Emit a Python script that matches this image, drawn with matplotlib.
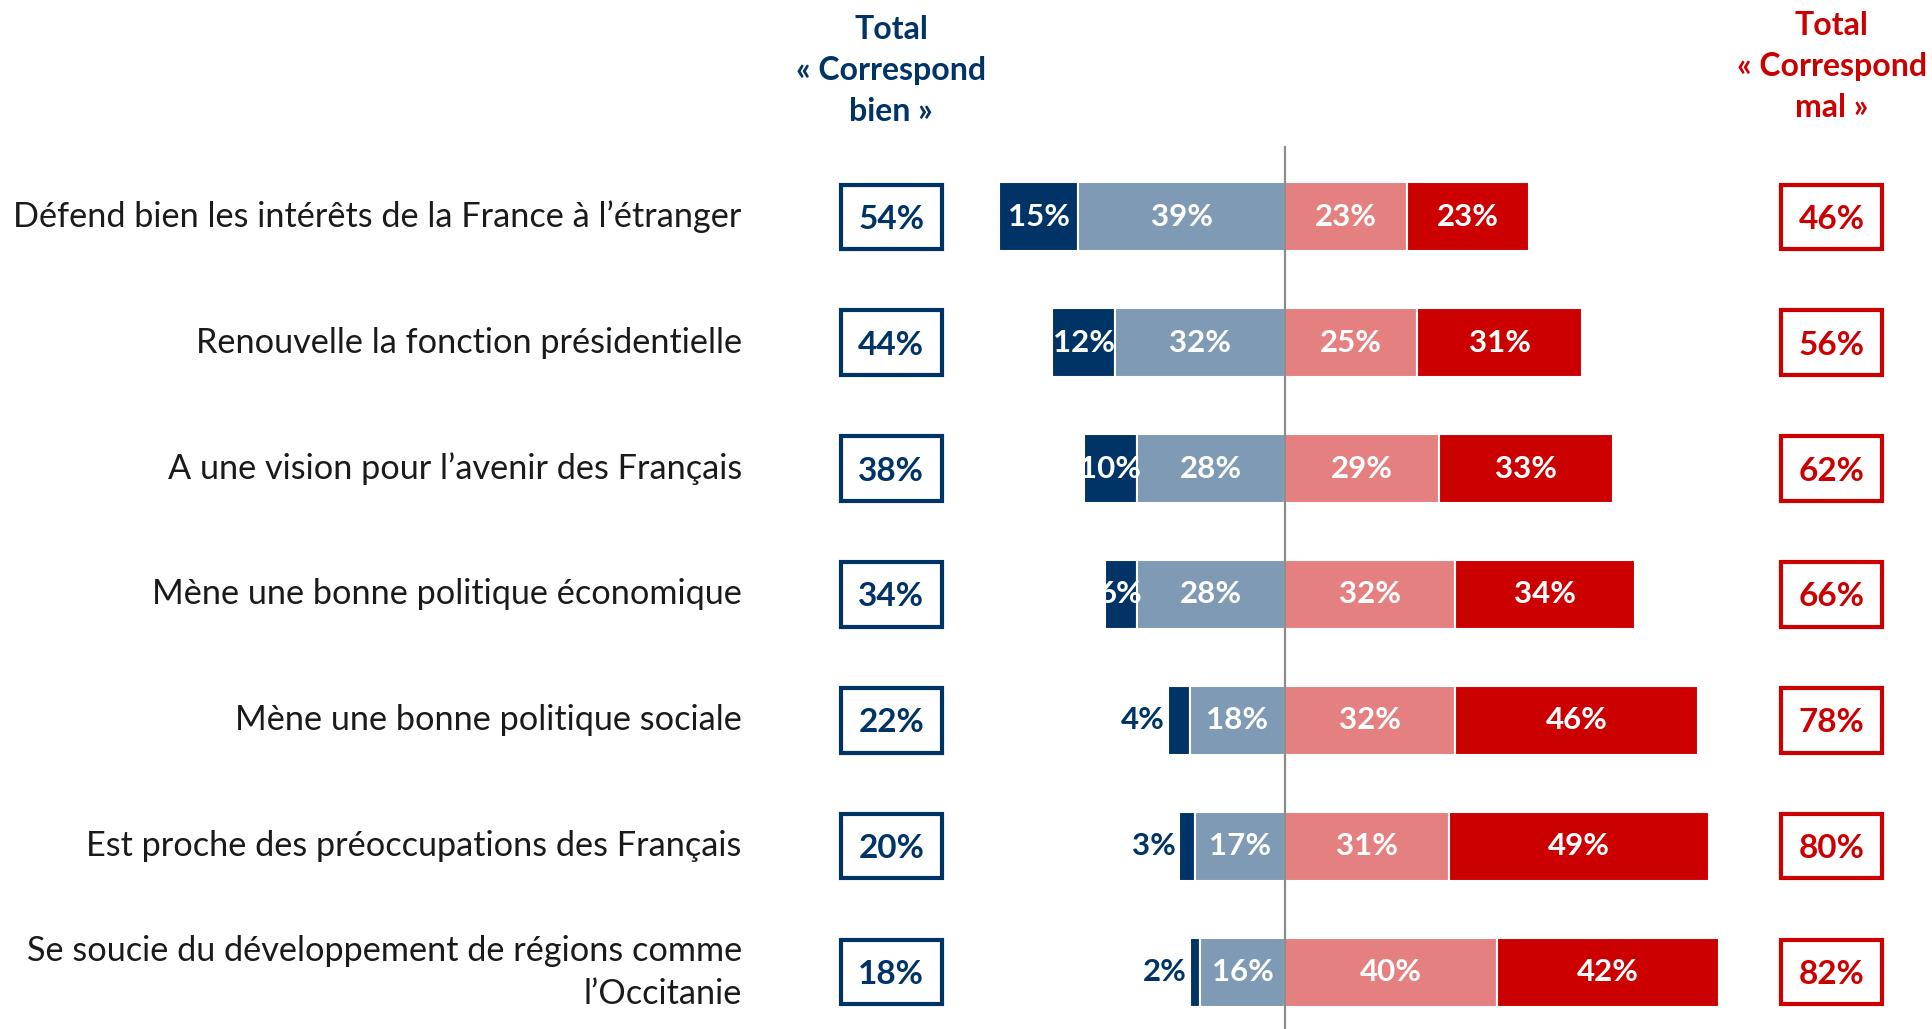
import matplotlib
matplotlib.use("Agg")
import matplotlib.pyplot as plt
from matplotlib.patches import Rectangle

# data
items = [
    "Défend bien les intérêts de la France à l’étranger",
    "Renouvelle la fonction présidentielle",
    "A une vision pour l’avenir des Français",
    "Mène une bonne politique économique",
    "Mène une bonne politique sociale",
    "Est proche des préoccupations des Français",
    "Se soucie du développement de régions comme\nl’Occitanie",
]
tres_bien = [15, 12, 10, 6, 4, 3, 2]
plutot_bien = [39, 32, 28, 28, 18, 17, 16]
plutot_mal = [23, 25, 29, 32, 32, 31, 40]
tres_mal = [23, 31, 33, 34, 46, 49, 42]
total_bien = [54, 44, 38, 34, 22, 20, 18]
total_mal = [46, 56, 62, 66, 78, 80, 82]

DARK_BLUE = "#003366"
LIGHT_BLUE = "#7F9AB4"
LIGHT_RED = "#E48080"
RED = "#CC0000"

font = ["Lato", "DejaVu Sans"]

fig = plt.figure(figsize=(19.33, 10.29), dpi=100)
ax = fig.add_axes([0, 0, 1, 1])
ax.set_xlim(-242.5, 122.3)
ax.set_ylim(6.45, -1.72)
ax.axis("off")

y = list(range(len(items)))
h = 0.55
left_dark = [-(a + b) for a, b in zip(tres_bien, plutot_bien)]
left_light = [-b for b in plutot_bien]

ax.barh(y, tres_bien, left=left_dark, height=h, color=DARK_BLUE, edgecolor="white", linewidth=1.5)
ax.barh(y, plutot_bien, left=left_light, height=h, color=LIGHT_BLUE, edgecolor="white", linewidth=1.5)
ax.barh(y, plutot_mal, left=0, height=h, color=LIGHT_RED, edgecolor="white", linewidth=1.5)
ax.barh(y, tres_mal, left=plutot_mal, height=h, color=RED, edgecolor="white", linewidth=1.5)

ax.axvline(0, ymin=0, ymax=(6.45 + 0.55) / (6.45 + 1.72), color="#8C8C8C", lw=1.6)

lab = dict(fontsize=22.5, fontweight="bold", family=font, va="center", ha="center")
for i in y:
    if tres_bien[i] >= 6:
        ax.text(left_dark[i] + tres_bien[i] / 2, i, f"{tres_bien[i]}%", color="white", **lab)
    else:
        ax.text(left_dark[i] - 0.6, i, f"{tres_bien[i]}%", color=DARK_BLUE,
                **{**lab, "ha": "right"})
    ax.text(left_light[i] + plutot_bien[i] / 2, i, f"{plutot_bien[i]}%", color="white", **lab)
    ax.text(plutot_mal[i] / 2, i, f"{plutot_mal[i]}%", color="white", **lab)
    ax.text(plutot_mal[i] + tres_mal[i] / 2, i, f"{tres_mal[i]}%", color="white", **lab)

    ax.text(-102.5, i, items[i], ha="right", va="center", fontsize=24.7, family=font,
            color="#1A1A1A", multialignment="right", linespacing=1.42)

    bw, bh = 19, 0.51
    ax.add_patch(Rectangle((-74.3 - bw / 2, i - bh / 2), bw, bh, fill=False,
                           edgecolor=DARK_BLUE, lw=3))
    ax.text(-74.3, i + 0.02, f"{total_bien[i]}%", color=DARK_BLUE, **{**lab, "fontsize": 24})
    ax.add_patch(Rectangle((103.2 - bw / 2, i - bh / 2), bw, bh, fill=False,
                           edgecolor=RED, lw=3))
    ax.text(103.2, i + 0.02, f"{total_mal[i]}%", color=RED, **{**lab, "fontsize": 24})

ax.text(-74.3, -1.16, "Total\n« Correspond\nbien »", color=DARK_BLUE, ha="center", va="center",
        fontsize=23, fontweight="bold", family=font, linespacing=1.5)
ax.text(103.2, -1.19, "Total\n« Correspond\nmal »", color=RED, ha="center", va="center",
        fontsize=23, fontweight="bold", family=font, linespacing=1.5)

fig.savefig("out.png", dpi=100)
